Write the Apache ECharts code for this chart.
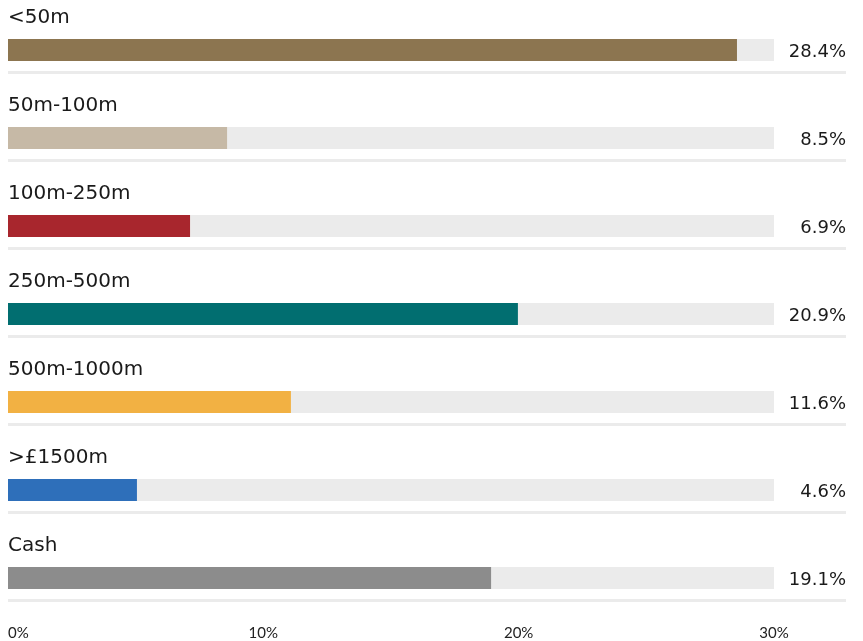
<!DOCTYPE html>
<html>
<head>
<meta charset="utf-8">
<script src="https://cdn.jsdelivr.net/npm/echarts@6/dist/echarts.min.js"></script>
<style>
  html, body { margin: 0; padding: 0; background: #fff; }
  #chart { width: 863px; height: 641px; }
</style>
</head>
<body>
<div id="chart"></div>
<script>
const CATEGORIES = ['<50m', '50m-100m', '100m-250m', '250m-500m', '500m-1000m', '>£1500m', 'Cash'];
// Printed shares (text on the right of each row).
const SHARE_LABELS = [28.4, 8.5, 6.9, 20.9, 11.6, 4.6, 19.1];
// Bar lengths as drawn (they don't quite match the printed figures).
const BAR_VALUES = [28.55, 8.58, 7.13, 19.97, 11.08, 5.05, 18.92];
const BAR_COLORS = ['#8c7550', '#c6b9a6', '#a8262d', '#016e70', '#f2b143', '#2e6fba', '#8c8c8c'];
const TRACK_MAX = 30;
const X_TICKS = [0, 10, 20, 30];

const FONT = '"DejaVu Sans", sans-serif';

const chart = echarts.init(document.getElementById('chart'));

chart.setOption({
  animation: false,
  grid: [
    // main bars
    { left: 8, right: 89, top: 6, height: 616 },
    // separator rules under each row
    { left: 8, right: 17, top: 72, height: 528 },
  ],
  xAxis: [
    {
      gridIndex: 0,
      type: 'value',
      min: 0,
      max: TRACK_MAX,
      interval: 10,
      axisLine: { show: false },
      axisTick: { show: false },
      splitLine: { show: false },
      axisLabel: {
        margin: 4,
        fontFamily: 'Lato, sans-serif',
        fontSize: 15,
        color: '#222',
        alignMinLabel: 'left',
        formatter: v => X_TICKS.includes(v) ? v + '%' : '',
      },
    },
    { gridIndex: 1, type: 'value', min: 0, max: 1, show: false },
  ],
  yAxis: [
    {
      gridIndex: 0,
      type: 'category',
      inverse: true,
      data: CATEGORIES,
      show: false,
    },
    {
      gridIndex: 1,
      type: 'value',
      min: 0,
      max: CATEGORIES.length - 1,
      interval: 1,
      axisLine: { show: false },
      axisTick: { show: false },
      axisLabel: { show: false },
      splitLine: { show: true, lineStyle: { color: '#ebebeb', width: 3 } },
    },
  ],
  series: [
    {
      // grey track + share labels
      type: 'bar',
      xAxisIndex: 0,
      yAxisIndex: 0,
      barWidth: 22,
      barGap: '-100%',
      silent: true,
      itemStyle: { color: '#ebebeb' },
      data: CATEGORIES.map(() => TRACK_MAX),
      label: {
        show: true,
        position: 'insideRight',
        offset: [77, 2],
        fontFamily: FONT,
        fontSize: 18,
        color: '#1a1a1a',
        formatter: p => SHARE_LABELS[p.dataIndex].toFixed(1) + '%',
      },
      z: 1,
    },
    {
      type: 'bar',
      xAxisIndex: 0,
      yAxisIndex: 0,
      barWidth: 22,
      barGap: '-100%',
      data: BAR_VALUES.map((v, i) => ({ value: v, itemStyle: { color: BAR_COLORS[i] } })),
      label: {
        show: true,
        position: [0, -21],
        align: 'left',
        verticalAlign: 'middle',
        fontFamily: FONT,
        fontSize: 20,
        color: '#1a1a1a',
        formatter: p => CATEGORIES[p.dataIndex],
      },
      z: 2,
    },
  ],
});
</script>
</body>
</html>
